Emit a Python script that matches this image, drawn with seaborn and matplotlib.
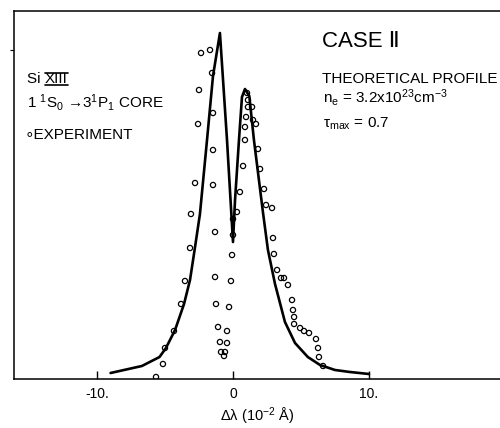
import matplotlib
matplotlib.use("Agg")
import matplotlib.pyplot as plt
import seaborn as sns
import pandas as pd
from matplotlib.lines import Line2D

# ---------------- data ----------------
# Theoretical profile (x in 10^-2 Angstrom, intensity arbitrary units)
theory_x = [-9.0, -6.7, -5.4, -4.93, -4.26, -3.6, -3.16, -2.79, -2.43, -1.91, -1.47,
            -0.96, -0.44, 0.0, 0.15, 0.44, 0.66, 0.88, 1.2, 1.54, 2.2, 2.57, 3.09,
            3.82, 4.56, 5.5, 6.4, 7.5, 8.6, 10.0]
theory_y = [6, 13, 22, 31, 49, 75, 99, 132, 165, 239, 303,
            346, 239, 137, 179, 239, 282, 290, 283, 239, 167, 129, 95,
            57, 36, 22, 14, 9, 7, 5]

# Experimental points
exp_x = [-5.66, -5.15, -5.00, -4.34, -3.82, -3.53, -3.16, -3.09, -2.79, -2.57, -2.50, -2.35, -1.69,
         -1.54, -1.47, -1.47, -1.47, -1.32, -1.32, -1.25, -1.10, -0.96, -0.88, -0.59, -0.66,
         -0.44, -0.44, -0.29, -0.15, -0.07, 0.0, 0.0, 0.29, 0.51, 0.74, 0.88, 0.88, 0.96, 1.10, 1.10, 1.03,
         1.40, 1.47, 1.69, 1.84, 1.99, 2.28, 2.43, 2.87, 2.94, 3.01, 3.24, 3.53, 3.75, 4.04,
         4.34, 4.41, 4.49, 4.49, 4.93, 5.22, 5.59, 6.10, 6.25, 6.32, 6.62]
exp_y = [2, 15, 31, 48, 75, 98, 131, 165, 196, 255, 289, 326, 329,
         306, 266, 229, 194, 147, 102, 75, 52, 37, 27, 27, 23,
         48, 36, 72, 98, 124, 144, 160, 167, 187, 213, 239, 252, 262, 272, 279, 286,
         272, 259, 255, 230, 210, 190, 174, 171, 141, 125, 109, 101, 101, 94,
         79, 69, 62, 55, 51, 48, 46, 40, 31, 22, 13]

x_ticks = [-10, 0, 10]
x_tick_labels = ["-10.", "0", "10."]

# ---------------- style ----------------
sns.set_theme(style="white")
plt.rcParams["font.family"] = ["Liberation Sans", "DejaVu Sans"]
plt.rcParams["mathtext.fontset"] = "custom"
plt.rcParams["mathtext.rm"] = "Liberation Sans"
plt.rcParams["mathtext.it"] = "Liberation Sans:italic"
plt.rcParams["mathtext.default"] = "regular"
plt.rcParams["text.color"] = "black"
plt.rcParams["axes.labelcolor"] = "black"
plt.rcParams["xtick.color"] = "black"
plt.rcParams["ytick.color"] = "black"

fig = plt.figure(figsize=(5.0, 4.28), dpi=100)
ax = fig.add_axes([14 / 500, 49 / 428, 486 / 500, 368 / 428])

theory = pd.DataFrame({"x": theory_x, "y": theory_y})
exp = pd.DataFrame({"x": exp_x, "y": exp_y})

sns.lineplot(data=theory, x="x", y="y", sort=False, color="black", lw=1.9, ax=ax)
sns.scatterplot(data=exp, x="x", y="y", marker="o", s=14, facecolors="none",
                edgecolor="black", linewidth=0.9, ax=ax, zorder=3)

ax.set_xlim(-16.1, 19.63)
ax.set_ylim(0, 368)

for side in ["left", "bottom", "top"]:
    ax.spines[side].set_visible(True)
    ax.spines[side].set_color("black")
    ax.spines[side].set_linewidth(1.1)
ax.spines["right"].set_visible(False)

ax.set_xticks(x_ticks)
ax.set_xticklabels(x_tick_labels, fontsize=10)
ax.tick_params(axis="x", direction="in", length=6, width=1.0, pad=6, colors="black", bottom=True)
ax.set_yticks([329])
ax.set_yticklabels([""])
ax.tick_params(axis="y", direction="out", length=3, width=0.8, left=True)

ax.set_xlabel(r"$\Delta\lambda$ (10$^{-2}$ Å)", fontsize=10.5, labelpad=3)
ax.set_ylabel("")

# ---------------- annotations ----------------
def fx(px):
    return (px - 14) / 486

def fy(py):
    return (379 - py) / 368

ax.text(fx(27), fy(83), "Si ", transform=ax.transAxes, fontsize=11, va="baseline")
t_num = ax.text(fx(45), fy(83), "XIII", transform=ax.transAxes, fontsize=11, va="baseline")
ax.text(fx(27), fy(108), r"1 $^1$S$_0$ →3$^1$P$_1$ CORE", transform=ax.transAxes,
        fontsize=11, va="baseline")
ax.text(fx(25), fy(139), "∘EXPERIMENT", transform=ax.transAxes, fontsize=11,
        va="baseline", family=["Liberation Sans", "DejaVu Sans"])

ax.text(fx(322), fy(47), "CASE Ⅱ", transform=ax.transAxes, fontsize=16, va="baseline",
        family=["Liberation Sans", "DejaVu Sans"])
ax.text(fx(322), fy(83), "THEORETICAL PROFILE", transform=ax.transAxes, fontsize=11,
        va="baseline")
ax.text(fx(323), fy(103), r"n$_e$ = 3.2x10$^{23}$cm$^{-3}$", transform=ax.transAxes,
        fontsize=11, va="baseline")
ax.text(fx(323), fy(128), r"$\tau_{max}$ = 0.7", transform=ax.transAxes,
        fontsize=11, va="baseline")

# over/underline for roman numeral
fig.canvas.draw()
bb = t_num.get_window_extent()
W, H = fig.bbox.width, fig.bbox.height
for yy in (bb.y0 + 1.5, bb.y1 - 1.0):
    fig.add_artist(Line2D([bb.x0 / W, bb.x1 / W], [yy / H, yy / H],
                          transform=fig.transFigure, color="black", lw=1.2))

fig.savefig("out.png", dpi=100)
